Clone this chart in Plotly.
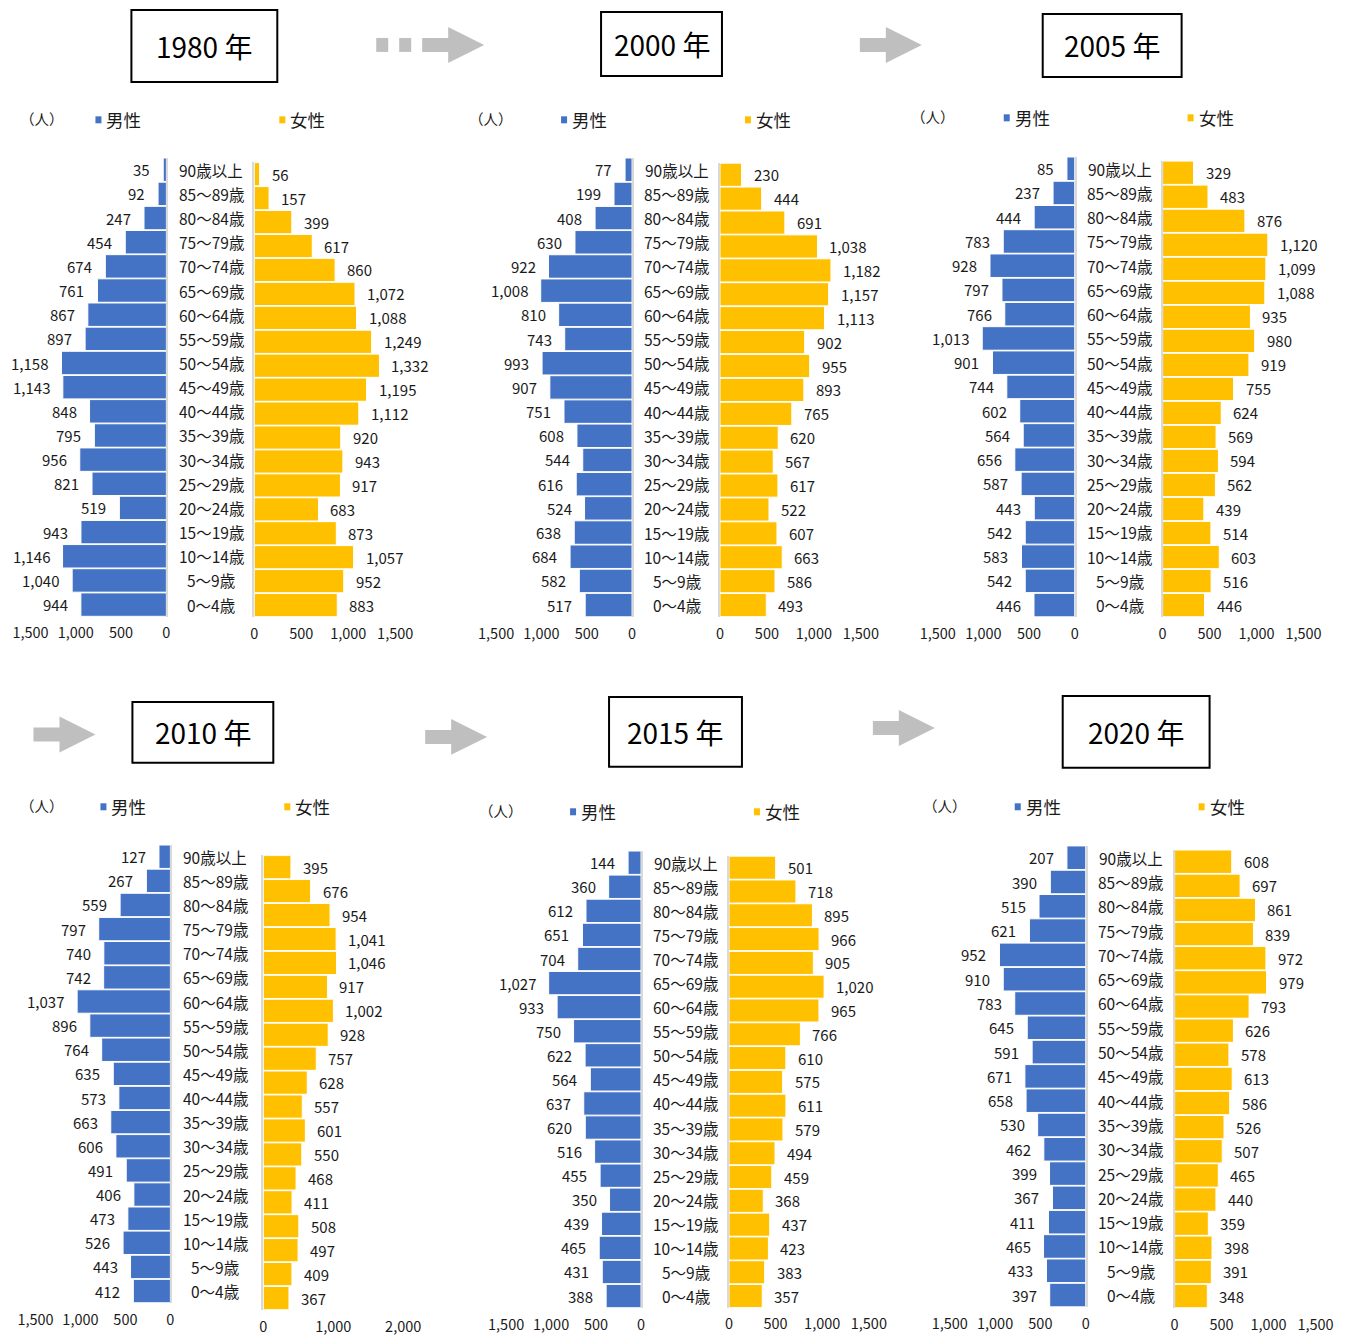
import plotly.graph_objects as go

# ---------------------------------------------------------------- data
AGES = ["90歳以上", "85～89歳", "80～84歳", "75～79歳", "70～74歳", "65～69歳",
        "60～64歳", "55～59歳", "50～54歳", "45～49歳", "40～44歳", "35～39歳",
        "30～34歳", "25～29歳", "20～24歳", "15～19歳", "10～14歳", "5～9歳", "0～4歳"]

YEARS = ["1980", "2000", "2005", "2010", "2015", "2020"]

male_1980 = [35, 92, 247, 454, 674, 761, 867, 897, 1158, 1143, 848, 795, 956, 821, 519, 943, 1146, 1040, 944]
female_1980 = [56, 157, 399, 617, 860, 1072, 1088, 1249, 1332, 1195, 1112, 920, 943, 917, 683, 873, 1057, 952, 883]

male_2000 = [77, 199, 408, 630, 922, 1008, 810, 743, 993, 907, 751, 608, 544, 616, 524, 638, 684, 582, 517]
female_2000 = [230, 444, 691, 1038, 1182, 1157, 1113, 902, 955, 893, 765, 620, 567, 617, 522, 607, 663, 586, 493]

male_2005 = [85, 237, 444, 783, 928, 797, 766, 1013, 901, 744, 602, 564, 656, 587, 443, 542, 583, 542, 446]
female_2005 = [329, 483, 876, 1120, 1099, 1088, 935, 980, 919, 755, 624, 569, 594, 562, 439, 514, 603, 516, 446]

male_2010 = [127, 267, 559, 797, 740, 742, 1037, 896, 764, 635, 573, 663, 606, 491, 406, 473, 526, 443, 412]
female_2010 = [395, 676, 954, 1041, 1046, 917, 1002, 928, 757, 628, 557, 601, 550, 468, 411, 508, 497, 409, 367]

male_2015 = [144, 360, 612, 651, 704, 1027, 933, 750, 622, 564, 637, 620, 516, 455, 350, 439, 465, 431, 388]
female_2015 = [501, 718, 895, 966, 905, 1020, 965, 766, 610, 575, 611, 579, 494, 459, 368, 437, 423, 383, 357]

male_2020 = [207, 390, 515, 621, 952, 910, 783, 645, 591, 671, 658, 530, 462, 399, 367, 411, 465, 433, 397]
female_2020 = [608, 697, 861, 839, 972, 979, 793, 626, 578, 613, 586, 526, 507, 465, 440, 359, 398, 391, 348]

MALE_TICKS = [0, 500, 1000, 1500]
FEMALE_TICKS = [0, 500, 1000, 1500]
FEMALE_TICKS_2010 = [0, 1000, 2000]

MALE_NAME = "男性"
FEMALE_NAME = "女性"
UNIT = "（人）"

# ---------------------------------------------------------------- layout helpers
W, H = 1346, 1336
# horizontal placement of the drawing surface inside the page
OX, WP = 17.5, 1311.0
BLUE = "#4472C4"
GOLD = "#FFC000"
ARROW = "#BFBFBF"
TXT = "#1a1a1a"
FONT = "Noto Sans CJK JP"


def fx(x):
    return (x - OX) / WP


def fy(y):
    return 1 - y / H


# pixel geometry of each pyramid
panels = [
    dict(year=YEARS[0], male=male_1980, female=female_1980, fticks=FEMALE_TICKS,
         m0=166, mmax=30, mtop=170, mbot=605.5, f0=254, fmax=395, ftop=174.5, fbot=606, catx=211,
         box=(131, 10, 277, 82), leg=(17.5, 95, 279, 120)),
    dict(year=YEARS[1], male=male_2000, female=female_2000, fticks=FEMALE_TICKS,
         m0=632, mmax=496, mtop=170, mbot=606, f0=720, fmax=861, ftop=175, fbot=606, catx=677,
         box=(601, 12, 722, 76), leg=(467, 561, 745, 120)),
    dict(year=YEARS[2], male=male_2005, female=female_2005, fticks=FEMALE_TICKS,
         m0=1075, mmax=938, mtop=169, mbot=606, f0=1163, fmax=1304, ftop=173, fbot=606, catx=1120,
         box=(1043, 14, 1182, 77), leg=(909, 1004, 1188, 118)),
    dict(year=YEARS[3], male=male_2010, female=female_2010, fticks=FEMALE_TICKS_2010,
         m0=170, mmax=35, mtop=858, mbot=1293, f0=263, fmax=403, ftop=868.5, fbot=1300, catx=215,
         box=(132, 703, 273, 764), leg=(17.5, 100, 284, 808)),
    dict(year=YEARS[4], male=male_2015, female=female_2015, fticks=FEMALE_TICKS,
         m0=641, mmax=506, mtop=864, mbot=1298, f0=729, fmax=869, ftop=869, fbot=1298, catx=686,
         box=(609, 698, 742, 768), leg=(477, 570, 754, 813)),
    dict(year=YEARS[5], male=male_2020, female=female_2020, fticks=FEMALE_TICKS,
         m0=1086, mmax=950, mtop=859, mbot=1297, f0=1175, fmax=1316, ftop=863, fbot=1298, catx=1131,
         box=(1063, 697, 1210, 769), leg=(921, 1015, 1199, 808)),
]

fig = go.Figure()
layout = dict(
    width=W, height=H, autosize=False,
    margin=dict(l=0, r=0, t=0, b=0),
    paper_bgcolor="white", plot_bgcolor="white",
    showlegend=False, bargap=0.03,
    font=dict(family=FONT, color=TXT, size=15),
)
annotations = []
shapes = []

n_rows = len(AGES)
for k, p in enumerate(panels):
    mi, fi = 2 * k + 1, 2 * k + 2
    ms = "" if mi == 1 else str(mi)
    fs = str(fi)

    # --- bars
    fig.add_trace(go.Bar(
        x=p["male"], y=AGES, orientation="h", name=MALE_NAME,
        xaxis="x" + ms, yaxis="y" + ms,
        marker=dict(color=BLUE, line=dict(color="white", width=1)),
        hoverinfo="x+y",
    ))
    fig.add_trace(go.Bar(
        x=p["female"], y=AGES, orientation="h", name=FEMALE_NAME,
        xaxis="x" + fs, yaxis="y" + fs,
        marker=dict(color=GOLD, line=dict(color="white", width=1)),
        hoverinfo="x+y",
    ))

    # --- axes
    mp = (p["mbot"] - p["mtop"]) / (n_rows - 1)
    fp = (p["fbot"] - p["ftop"]) / (n_rows - 1)
    mmaxv = MALE_TICKS[-1]
    fmaxv = p["fticks"][-1]
    tickfont = dict(family=FONT, size=14.5, color=TXT)

    layout["xaxis" + ms] = dict(
        domain=[fx(p["mmax"]), fx(p["m0"])], range=[mmaxv, 0], anchor="y" + ms,
        tickvals=MALE_TICKS, tickformat=",d", ticks="", showgrid=False,
        zeroline=False, showline=False, tickfont=tickfont, ticklabelstandoff=6,
    )
    layout["yaxis" + ms] = dict(
        domain=[fy(p["mbot"] + mp / 2), fy(p["mtop"] - mp / 2)], anchor="x" + ms,
        type="category", categoryorder="array", categoryarray=AGES,
        range=[n_rows - 0.5, -0.5], side="right", showticklabels=False,
        showgrid=False, zeroline=False, showline=True, linecolor="#D9D9D9", linewidth=1.5,
        ticks="",
    )
    layout["xaxis" + fs] = dict(
        domain=[fx(p["f0"]), fx(p["fmax"])], range=[0, fmaxv], anchor="y" + fs,
        tickvals=p["fticks"], tickformat=",d", ticks="", showgrid=False,
        zeroline=False, showline=False, tickfont=tickfont, ticklabelstandoff=6,
    )
    layout["yaxis" + fs] = dict(
        domain=[fy(p["fbot"] + fp / 2), fy(p["ftop"] - fp / 2)], anchor="x" + fs,
        type="category", categoryorder="array", categoryarray=AGES,
        range=[n_rows - 0.5, -0.5], side="left", showticklabels=False,
        showgrid=False, zeroline=False, showline=True, linecolor="#D9D9D9", linewidth=1.5,
        ticks="",
    )

    # --- value labels and age labels
    for i, (age, mv, fv) in enumerate(zip(AGES, p["male"], p["female"])):
        annotations.append(dict(
            x=mv, y=i, xref="x" + ms, yref="y" + ms, text=f"{mv:,}",
            xanchor="right", yanchor="middle", xshift=-11, showarrow=False,
            font=dict(family=FONT, size=15, color=TXT),
        ))
        annotations.append(dict(
            x=fv, y=i, xref="x" + fs, yref="y" + fs, text=f"{fv:,}",
            xanchor="left", yanchor="middle", xshift=10, showarrow=False,
            font=dict(family=FONT, size=15, color=TXT),
        ))
        annotations.append(dict(
            x=fx(p["catx"]), y=i, xref="paper", yref="y" + ms, text=age,
            xanchor="center", yanchor="middle", showarrow=False,
            font=dict(family=FONT, size=15.5, color=TXT),
        ))

    # --- year box
    x0, y0, x1, y1 = p["box"]
    shapes.append(dict(type="rect", xref="paper", yref="paper",
                       x0=fx(x0), x1=fx(x1), y0=fy(y1), y1=fy(y0),
                       line=dict(color="black", width=2), fillcolor="white", layer="below"))
    annotations.append(dict(
        x=fx((x0 + x1) / 2), y=fy((y0 + y1) / 2), xref="paper", yref="paper",
        text=f"{p['year']} 年", showarrow=False, xanchor="center", yanchor="middle",
        font=dict(family=FONT, size=28, color="black"),
    ))

    # --- legend row
    ux, mx, fxl, ly = p["leg"]
    annotations.append(dict(
        x=fx(ux), y=fy(ly - 1), xref="paper", yref="paper", text=UNIT,
        showarrow=False, xanchor="left", yanchor="middle",
        font=dict(family=FONT, size=14.5, color=TXT),
    ))
    for sx, col, name in ((mx, BLUE, MALE_NAME), (fxl, GOLD, FEMALE_NAME)):
        shapes.append(dict(type="rect", xref="paper", yref="paper",
                           x0=fx(sx), x1=fx(sx + 6), y0=fy(ly + 3.5), y1=fy(ly - 3.5),
                           line=dict(width=0), fillcolor=col))
        annotations.append(dict(
            x=fx(sx + 9), y=fy(ly), xref="paper", yref="paper", text=name,
            showarrow=False, xanchor="left", yanchor="middle",
            font=dict(family=FONT, size=17.5, color=TXT),
        ))


# ---------------------------------------------------------------- arrows between years
def arrow_path(x0, cy, shaft=26, head=36, sh=14, hh=36):
    pts = [(x0, cy - sh / 2), (x0 + shaft, cy - sh / 2), (x0 + shaft, cy - hh / 2),
           (x0 + shaft + head, cy), (x0 + shaft, cy + hh / 2), (x0 + shaft, cy + sh / 2),
           (x0, cy + sh / 2)]
    return "M " + " L ".join(f"{fx(a):.5f},{fy(b):.5f}" for a, b in pts) + " Z"


# dashed lead-in arrow (1980 -> 2000)
for sx in (376, 399):
    shapes.append(dict(type="rect", xref="paper", yref="paper",
                       x0=fx(sx), x1=fx(sx + 12), y0=fy(52), y1=fy(38),
                       line=dict(width=0), fillcolor=ARROW))
for x0, cy in ((422, 45), (860, 45), (33, 735.5), (425, 738), (873, 729)):
    shapes.append(dict(type="path", xref="paper", yref="paper",
                       path=arrow_path(x0, cy), line=dict(width=0), fillcolor=ARROW))

layout["annotations"] = annotations
layout["shapes"] = shapes
fig.update_layout(**layout)

fig.write_html("out.html")
